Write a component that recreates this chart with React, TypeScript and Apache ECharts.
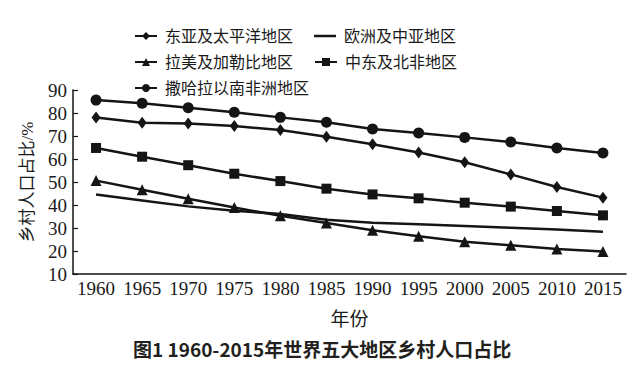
import React, { useEffect, useRef } from "react";
import * as echarts from "echarts";

const years = ["1960", "1965", "1970", "1975", "1980", "1985", "1990", "1995", "2000", "2005", "2010", "2015"];
const eastAsia = [78.0, 75.8, 75.4, 74.3, 72.6, 69.7, 66.4, 62.8, 58.6, 53.3, 47.8, 43.2];
const europe = [44.6, 42.0, 39.4, 37.5, 36.1, 33.6, 32.3, 31.6, 30.9, 30.1, 29.3, 28.4];
const latam = [50.6, 46.6, 42.7, 38.9, 35.3, 32.2, 29.0, 26.4, 24.0, 22.5, 20.9, 19.8];
const mena = [64.8, 61.0, 57.3, 53.6, 50.4, 47.1, 44.6, 42.9, 41.0, 39.3, 37.4, 35.5];
const ssa = [85.6, 84.2, 82.3, 80.3, 78.1, 76.0, 73.0, 71.3, 69.4, 67.4, 64.8, 62.6];

const names = ["东亚及太平洋地区", "欧洲及中亚地区", "拉美及加勒比地区", "中东及北非地区", "撒哈拉以南非洲地区"];

const SERIF = "'Times New Roman', 'Liberation Serif', 'Noto Sans CJK SC', serif";
const INK = "#151515";
const LINE_ICON = "path://M0,0H0.01V0.01H0Z M0,3.75H22V6.25H0Z M0,9.99H0.01V10H0Z";

export default function App() {
  const ref = useRef<HTMLDivElement>(null);
  useEffect(() => {
    if (!ref.current) return;
    const chart = echarts.init(ref.current, null, { renderer: "svg" });
    const mk = (name: string, data: number[], symbol: string, size: any) => ({
      name,
      type: "line",
      data,
      symbol,
      symbolSize: size,
      showSymbol: symbol !== "none",
      lineStyle: { color: INK, width: 2.5 },
      itemStyle: { color: INK },
      emphasis: { disabled: true },
    });
    const legendBase = {
      itemWidth: 22,
      itemHeight: 10,
      itemGap: 21,
      textStyle: { fontFamily: SERIF, fontSize: 16, color: "#1a1a1a", padding: [0, 0, 0, 3] },
      selectedMode: false,
    };
    chart.setOption({
      animation: false,
      backgroundColor: "#ffffff",
      legend: [
        { ...legendBase, left: 129, top: 23, data: [names[0], { name: names[1], icon: LINE_ICON }] },
        { ...legendBase, left: 129, top: 49, data: [names[2], names[3]] },
        { ...legendBase, left: 129, top: 75, data: [names[4]] },
      ],
      grid: { left: 73, right: 7, top: 90, bottom: 94 },
      xAxis: {
        type: "category",
        data: years,
        boundaryGap: true,
        name: "年份",
        nameLocation: "middle",
        nameGap: 36,
        nameTextStyle: { fontFamily: SERIF, fontSize: 19, color: "#1a1a1a" },
        axisLine: { lineStyle: { color: INK, width: 1.5 } },
        axisTick: { inside: true, alignWithLabel: true, length: 5, lineStyle: { color: INK, width: 1.2 } },
        axisLabel: { fontFamily: SERIF, fontSize: 19, color: "#1a1a1a", margin: 5, interval: 0 },
        splitLine: { show: false },
      },
      yAxis: {
        type: "value",
        min: 10,
        max: 90,
        interval: 10,
        name: "乡村人口占比/%",
        nameLocation: "middle",
        nameGap: 37,
        nameTextStyle: { fontFamily: SERIF, fontSize: 17, color: "#1a1a1a" },
        axisLine: { show: true, lineStyle: { color: INK, width: 1.5 } },
        axisTick: { show: true, inside: true, length: 5, lineStyle: { color: INK, width: 1.2 } },
        axisLabel: { fontFamily: SERIF, fontSize: 19, color: "#1a1a1a", margin: 6 },
        splitLine: { show: false },
      },
      series: [
        mk(names[0], eastAsia, "diamond", [9, 12]),
        mk(names[1], europe, "none", 0),
        mk(names[2], latam, "triangle", 11),
        mk(names[3], mena, "rect", 10),
        mk(names[4], ssa, "circle", 11),
      ],
      graphic: [
        {
          type: "text",
          left: 133,
          top: 339,
          style: {
            text: "图1 1960-2015年世界五大地区乡村人口占比",
            fontSize: 19,
            fontWeight: "bold",
            fontFamily: "'Noto Sans CJK SC', sans-serif",
            fill: "#231f1c",
          },
        },
      ],
    });
    return () => chart.dispose();
  }, []);
  return (
    <div
      ref={ref}
      style={{ position: "fixed", left: 0, top: 0, width: 633, height: 368, background: "#fff" }}
    />
  );
}
